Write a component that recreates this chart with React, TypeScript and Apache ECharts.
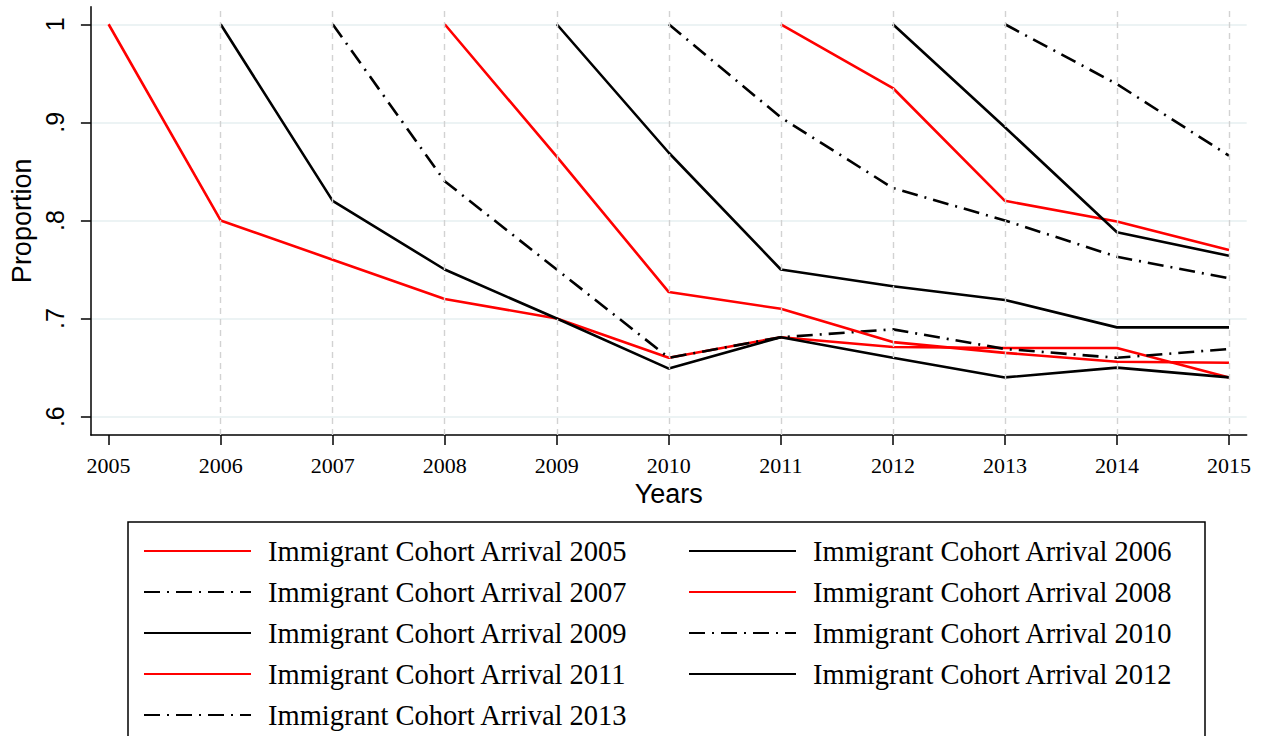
import React, { useEffect, useRef } from "react";
import * as echarts from "echarts";

const years = [2005, 2006, 2007, 2008, 2009, 2010, 2011, 2012, 2013, 2014, 2015];
const yTicks = [0.6, 0.7, 0.8, 0.9, 1];

const cohortNames = [
  "Immigrant Cohort Arrival 2005",
  "Immigrant Cohort Arrival 2006",
  "Immigrant Cohort Arrival 2007",
  "Immigrant Cohort Arrival 2008",
  "Immigrant Cohort Arrival 2009",
  "Immigrant Cohort Arrival 2010",
  "Immigrant Cohort Arrival 2011",
  "Immigrant Cohort Arrival 2012",
  "Immigrant Cohort Arrival 2013",
];

const c2005 = [1, 0.8, 0.76, 0.72, 0.7, 0.66, 0.681, 0.671, 0.67, 0.67, 0.64];
const c2006 = [null, 1, 0.82, 0.75, 0.7, 0.649, 0.681, 0.66, 0.64, 0.65, 0.64];
const c2007 = [null, null, 1, 0.84, 0.75, 0.66, 0.681, 0.689, 0.669, 0.66, 0.669];
const c2008 = [null, null, null, 1, 0.865, 0.727, 0.71, 0.676, 0.665, 0.656, 0.655];
const c2009 = [null, null, null, null, 1, 0.869, 0.75, 0.733, 0.719, 0.691, 0.691];
const c2010 = [null, null, null, null, null, 1, 0.905, 0.833, 0.8, 0.763, 0.741];
const c2011 = [null, null, null, null, null, null, 1, 0.935, 0.82, 0.799, 0.77];
const c2012 = [null, null, null, null, null, null, null, 1, 0.895, 0.788, 0.764];
const c2013 = [null, null, null, null, null, null, null, null, 1, 0.939, 0.866];

const cohortValues = [c2005, c2006, c2007, c2008, c2009, c2010, c2011, c2012, c2013];
const cohortColors = ["#ff0000", "#000000", "#000000", "#ff0000", "#000000", "#000000", "#ff0000", "#000000", "#000000"];
const cohortDashed = [false, false, true, false, false, true, false, false, true];

const leftLegend = [cohortNames[0], cohortNames[2], cohortNames[4], cohortNames[6], cohortNames[8]];
const rightLegend = [cohortNames[1], cohortNames[3], cohortNames[5], cohortNames[7]];

export default function App() {
  const ref = useRef<HTMLDivElement>(null);

  useEffect(() => {
    if (!ref.current) return;
    const chart = echarts.init(ref.current, null, { renderer: "svg" });

    const series: any[] = cohortValues.map((vals, i) => {
      const s: any = {
        name: cohortNames[i],
        type: "line",
        symbol: "none",
        showSymbol: false,
        data: years
          .map((yr, k) => [yr, vals[k]])
          .filter((p) => p[1] !== null),
        lineStyle: {
          color: cohortColors[i],
          width: 2.6,
          type: cohortDashed[i] ? [16, 7, 2, 7] : "solid",
        },
        itemStyle: { color: cohortColors[i] },
        emphasis: { disabled: true },
      };
      if (i === 0) {
        s.markLine = {
          silent: true,
          symbol: ["none", "none"],
          label: { show: false },
          lineStyle: { color: "#d2d2d2", type: [6, 5], width: 1.4 },
          data: years.slice(1).map((yr) => ({ xAxis: yr })),
        };
      }
      return s;
    });

    const legendCommon = {
      orient: "vertical",
      top: 536,
      height: 200,
      padding: 0,
      itemWidth: 107,
      itemHeight: 30,
      itemGap: 11,
      selectedMode: false,
      itemStyle: { opacity: 0 },
      textStyle: {
        fontFamily: "Liberation Serif",
        fontSize: 28.5,
        lineHeight: 30,
        color: "#000",
        padding: [0, 0, 0, 12],
      },
    };

    chart.setOption({
      animation: false,
      backgroundColor: "#ffffff",
      grid: { left: 88.3, right: 17.3, top: 6.7, bottom: 301 },
      xAxis: {
        type: "value",
        min: 2004.842,
        max: 2015.158,
        name: "Years",
        nameLocation: "middle",
        nameGap: 42,
        nameTextStyle: { fontFamily: "Liberation Sans", fontSize: 27, color: "#000" },
        axisLine: { show: true, lineStyle: { color: "#000", width: 1.5 } },
        axisTick: { show: true, length: 10, customValues: years, lineStyle: { color: "#000", width: 1.5 } },
        axisLabel: {
          customValues: years,
          margin: 19,
          fontFamily: "Liberation Serif",
          fontSize: 22,
          color: "#000",
          formatter: (v: number) => String(Math.round(v)),
        },
        splitLine: { show: false },
      },
      yAxis: {
        type: "value",
        min: 0.5813,
        max: 1.0179,
        name: "Proportion",
        nameLocation: "middle",
        nameGap: 52,
        nameTextStyle: { fontFamily: "Liberation Sans", fontSize: 27, color: "#000" },
        axisLine: { show: true, lineStyle: { color: "#000", width: 1.5 } },
        axisTick: { show: true, length: 10, customValues: yTicks, lineStyle: { color: "#000", width: 1.5 } },
        axisLabel: {
          customValues: yTicks,
          rotate: 90,
          margin: 23,
          fontFamily: "Liberation Sans",
          fontSize: 25,
          color: "#000",
          formatter: (v: number) => (Math.abs(v - 1) < 1e-9 ? "1" : v.toFixed(1).replace(/^0/, "")),
        },
        splitLine: { show: true, lineStyle: { color: "#e6eff0", width: 1.7 } },
      },
      legend: [
        { ...legendCommon, left: 143, data: leftLegend },
        { ...legendCommon, left: 688, data: rightLegend },
      ],
      graphic: [
        {
          type: "rect",
          shape: { x: 128, y: 522, width: 1077, height: 240 },
          style: { fill: "none", stroke: "#000", lineWidth: 1.5 },
          silent: true,
        },
      ],
      series,
    });

    return () => chart.dispose();
  }, []);

  return (
    <div
      ref={ref}
      style={{ position: "fixed", left: 0, top: 0, width: 1264, height: 736, background: "#fff" }}
    />
  );
}
